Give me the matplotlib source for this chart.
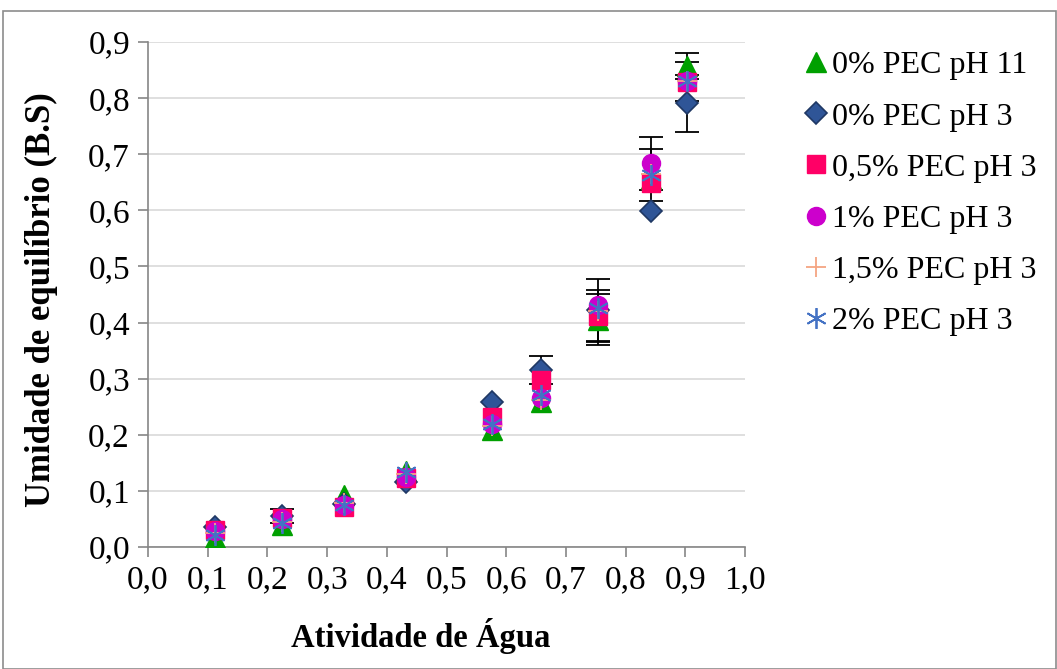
import matplotlib.pyplot as plt
import numpy as np
from matplotlib.patches import Rectangle
from matplotlib.ticker import MultipleLocator, FuncFormatter

plt.rcParams['font.family'] = ['Liberation Serif', 'DejaVu Serif']

aw = [0.113, 0.225, 0.328, 0.432, 0.576, 0.658, 0.753, 0.843, 0.903]

labels = ["0% PEC pH 11", "0% PEC pH 3", "0,5% PEC pH 3",
          "1% PEC pH 3", "1,5% PEC pH 3", "2% PEC pH 3"]

ueq_pec0_ph11 = [0.016, 0.040, 0.092, 0.135, 0.208, 0.258, 0.405, 0.655, 0.857]
ueq_pec0_ph3 = [0.035, 0.055, 0.076, 0.116, 0.258, 0.315, 0.422, 0.599, 0.791]
ueq_pec05 = [0.030, 0.052, 0.072, 0.123, 0.232, 0.297, 0.412, 0.649, 0.829]
ueq_pec1 = [0.028, 0.050, 0.074, 0.125, 0.220, 0.265, 0.431, 0.684, 0.830]
ueq_pec15 = [0.025, 0.045, 0.078, 0.130, 0.215, 0.262, 0.420, 0.665, 0.830]
ueq_pec2 = [0.022, 0.043, 0.075, 0.134, 0.220, 0.270, 0.426, 0.663, 0.830]

# standard deviations (0 = not shown)
err_pec0_ph11 = [0, 0, 0, 0, 0, 0, 0.045, 0, 0.023]
err_pec0_ph3 = [0, 0.012, 0, 0, 0, 0.025, 0.055, 0, 0.051]
err_pec05 = [0, 0, 0, 0, 0, 0, 0.046, 0, 0.035]
err_pec1 = [0, 0, 0, 0, 0, 0, 0, 0.047, 0]
err_pec15 = [0, 0, 0, 0, 0, 0, 0, 0, 0]
err_pec2 = [0, 0, 0, 0, 0, 0, 0, 0.046, 0]

series = [
    (ueq_pec0_ph11, err_pec0_ph11, dict(marker='^', color='#00a000', mec='#00a000', ms=14)),
    (ueq_pec0_ph3, err_pec0_ph3, dict(marker='D', color='#2f5597', mec='#1f3864', ms=11, mew=1.2)),
    (ueq_pec05, err_pec05, dict(marker='s', color='#ff0066', mec='#ff0066', ms=13)),
    (ueq_pec1, err_pec1, dict(marker='o', color='#cc00cc', mec='#cc00cc', ms=13)),
    (ueq_pec15, err_pec15, dict(marker='+', color='#f4a582', mec='#f4a582', ms=15, mew=1.3)),
    (ueq_pec2, err_pec2, dict(marker=(6, 2, 0), color='#4472c4', mec='#4472c4', ms=15, mew=1.3)),
]

fig = plt.figure(figsize=(10.57, 6.69), dpi=100)
ax = fig.add_axes([0.140, 0.1824, 0.565, 0.7548])

# error bars go underneath every marker
x = np.array(aw)
for y, e, style in series:
    y, e = np.array(y), np.array(e)
    m = e > 0
    if m.any():
        ax.errorbar(x[m], y[m], yerr=e[m], fmt='none', ecolor='black', elinewidth=1.3,
                    capsize=8.5, capthick=1.3, zorder=2)

handles = []
for (y, e, style), lab in zip(series, labels):
    ln, = ax.plot(aw, y, ls='none', zorder=3, label=lab, **style)
    handles.append(ln)

ax.set_xlim(0, 1.0)
ax.set_ylim(0, 0.9)
ax.xaxis.set_major_locator(MultipleLocator(0.1))
ax.yaxis.set_major_locator(MultipleLocator(0.1))
comma = FuncFormatter(lambda v, p: f"{v:.1f}".replace('.', ','))
ax.xaxis.set_major_formatter(comma)
ax.yaxis.set_major_formatter(comma)

ax.grid(axis='y', color='#d9d9d9', lw=1.2)
ax.set_axisbelow(True)
for s in ['top', 'right']:
    ax.spines[s].set_visible(False)
for s in ['left', 'bottom']:
    ax.spines[s].set_color('#868686')
    ax.spines[s].set_linewidth(1.2)
ax.tick_params(direction='out', length=7, width=1.2, color='#868686',
               labelsize=24, pad=6)

ax.set_xlabel("Atividade de Água", fontsize=23.5, fontweight='bold')
ax.xaxis.set_label_coords(0.456, -0.14)
ax.set_ylabel("Umidade de equilíbrio (B.S)", fontsize=25, fontweight='bold')
ax.yaxis.set_label_coords(-0.15, 0.49)

ax.legend(handles=handles, loc='upper left', bbox_to_anchor=(1.07, 1.02), frameon=False,
          fontsize=23, handlelength=0.6, handletextpad=0.2,
          labelspacing=0.68, borderaxespad=0.2)

# outer frame of the chart area
fig.patches.append(Rectangle((3 / 1057, 0), 1 - 3 / 1057 - 1 / 1057, (669 - 11) / 669,
                             transform=fig.transFigure, fill=False,
                             edgecolor='#8c8c8c', lw=1.2))

fig.savefig("out.png", dpi=100)
